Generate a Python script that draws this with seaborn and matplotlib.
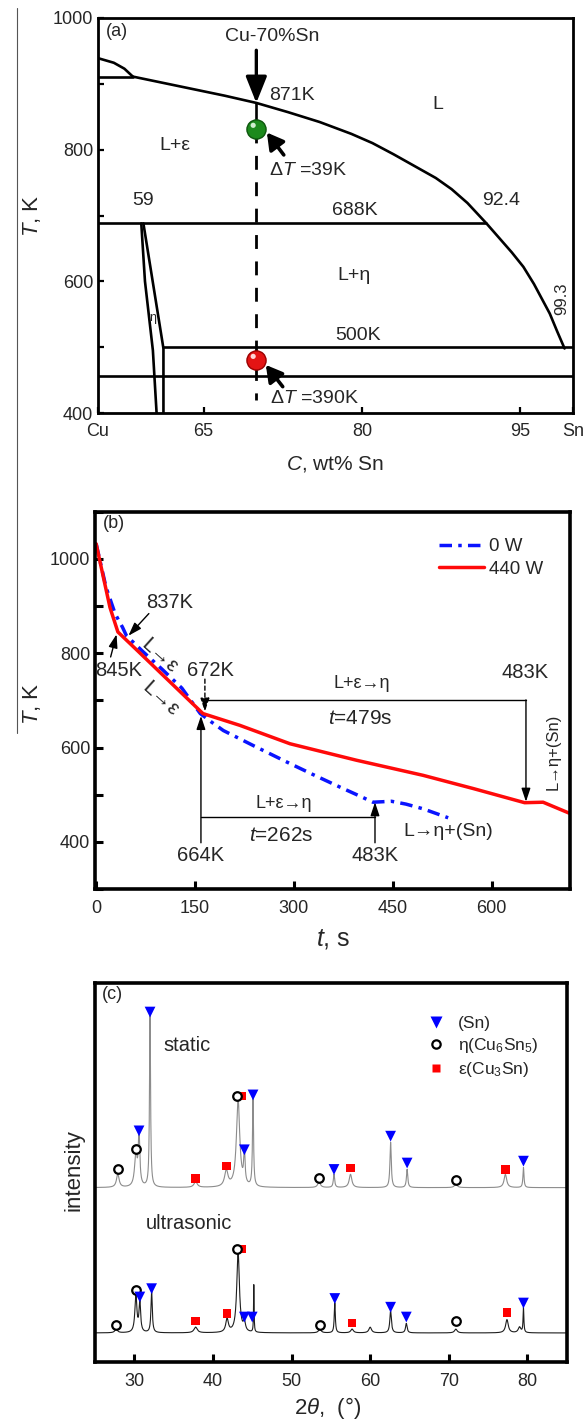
import numpy as np
import pandas as pd
import matplotlib
matplotlib.use("Agg")
import matplotlib.pyplot as plt
from matplotlib.lines import Line2D
from matplotlib.ticker import MultipleLocator
import seaborn as sns

# ---------------- (a) Cu-Sn phase diagram ----------------
liq_c = [58.3, 61, 64, 67, 70, 73, 76, 79, 81, 83, 85, 87, 88.5, 90, 91.8, 93, 94.2, 95.3,
         96.3, 97.2, 97.8, 98.5, 99.2]
liq_T = [911, 902, 892, 882, 871, 857, 842, 824, 810, 793, 775, 757, 740, 719, 688, 666, 644, 622,
         596, 569, 551, 524, 498]
cap_c = [55, 56.5, 57.5, 58.3]
cap_T = [939, 932, 923, 911]
eta_left_c = [59.1, 59.45, 60.2, 60.55]
eta_left_T = [688, 600, 495, 400]
eta_right_c = [59.3, 61.2, 61.2]
eta_right_T = [688, 498, 400]
iso_T = [911, 688, 500, 456]
iso_c0 = [55, 55, 61.2, 55]
iso_c1 = [58.3, 91.8, 100, 100]
alloy_c = 70
T_start, T_liq, T_green, T_red, T_dash_end = 951, 871, 832, 481, 420

# ---------------- (b) cooling curves ----------------
t_0w = [0, 15, 29, 40, 46, 72, 100, 130, 158, 175, 193, 240, 294, 330, 370, 400, 420, 448, 470, 496, 534]
T_0w = [1032, 940, 883, 855, 837, 802, 766, 726, 672, 654, 636, 603, 566, 542, 516, 497, 484, 486, 480, 470, 451]
t_440w = [0, 11, 21, 33, 60, 92, 127, 162, 218, 294, 395, 496, 572, 650, 678, 719]
T_440w = [1032, 961, 897, 845, 809, 766, 719, 672, 647, 608, 573, 541, 513, 483, 484, 460]

# ---------------- (c) XRD peaks: (2theta, height, half width) ----------------
static_base = 46
static_peaks = [(27.9, 3.5, 0.2), (30.2, 8.3, 0.2), (30.6, 13.6, 0.12), (32.0, 45.3, 0.08),
                (37.8, 1.5, 0.25), (41.7, 4.3, 0.25), (43.2, 23.3, 0.25), (44.0, 8.8, 0.1),
                (45.1, 23.3, 0.08), (53.5, 1.5, 0.2), (55.4, 3.5, 0.1), (57.5, 3.5, 0.2),
                (62.6, 12.0, 0.1), (64.7, 4.8, 0.1), (70.9, 1.0, 0.2), (77.2, 3.5, 0.2),
                (79.5, 5.3, 0.08)]
ultra_base = 7.6
ultra_peaks = [(27.7, 1.0, 0.2), (30.2, 10.0, 0.15), (30.7, 8.0, 0.12), (32.2, 11.0, 0.1),
               (37.8, 1.5, 0.25), (41.8, 3.5, 0.2), (43.2, 21.5, 0.2), (44.0, 2.5, 0.15),
               (45.2, 12.5, 0.04), (53.6, 1.0, 0.2), (55.5, 8.0, 0.08), (57.7, 1.0, 0.2),
               (60.0, 1.5, 0.2), (62.6, 5.8, 0.12), (64.6, 2.5, 0.12), (70.9, 1.0, 0.2),
               (77.4, 3.5, 0.2), (79.0, 1.5, 0.2), (79.5, 6.6, 0.06)]

static_sn_x = [30.6, 32.0, 44.0, 45.1, 55.4, 62.6, 64.7, 79.5]
static_sn_y = [61, 92.4, 56, 70.5, 50.8, 59.6, 52.5, 53]
static_eta_x = [27.9, 30.2, 43.1, 53.5, 70.9]
static_eta_y = [51, 56.3, 70.2, 48.6, 48]
static_eps_x = [37.8, 41.7, 43.7, 57.5, 77.2]
static_eps_y = [48.4, 51.7, 70.2, 51.2, 50.8]

ultra_sn_x = [30.7, 32.2, 44.0, 45.0, 55.5, 62.6, 64.6, 79.5]
ultra_sn_y = [17.1, 19.3, 11.8, 11.8, 16.7, 14.4, 11.8, 15.5]
ultra_eta_x = [27.7, 30.2, 43.1, 53.6, 70.9]
ultra_eta_y = [9.8, 19, 29.8, 9.8, 10.8]
ultra_eps_x = [37.8, 41.8, 43.7, 57.7, 77.4]
ultra_eps_y = [10.8, 12.7, 29.8, 10.2, 13]


def pattern(base, peaks):
    x = np.linspace(25, 85, 2401)
    y = np.full_like(x, float(base))
    for p, h, w in peaks:
        y += h / (1 + ((x - p) / w) ** 2)
    return pd.DataFrame({"two_theta": x, "I": y})


sns.set_style("ticks")
plt.rcParams['font.family'] = ['Liberation Sans', 'DejaVu Sans']
plt.rcParams['mathtext.fontset'] = 'custom'
plt.rcParams['mathtext.rm'] = 'Liberation Sans'
plt.rcParams['mathtext.it'] = 'Liberation Sans:italic'

fig = plt.figure(figsize=(5.84, 14.19), dpi=100)
ax_a = fig.add_axes([98 / 584, 1 - 413 / 1419, 475 / 584, 395 / 1419])
ax_b = fig.add_axes([95 / 584, 1 - 889 / 1419, 475 / 584, 377.3 / 1419])
ax_c = fig.add_axes([95 / 584, 1 - 1361.7 / 1419, 471.7 / 584, 378.4 / 1419])

# thin stray line on the far left of the page
fig.add_artist(Line2D([17 / 584, 17 / 584], [1 - 8 / 1419, 1 - 733 / 1419], color='#555555', lw=0.8))


def style_axes(ax, spine_w, tick_len, tick_w):
    for s in ax.spines.values():
        s.set_linewidth(spine_w)
        s.set_color('black')
    ax.tick_params(which='both', direction='in', length=tick_len, width=tick_w,
                   labelsize=13, top=False, right=False, color='black')


# ================= panel (a) =================
ax = ax_a
lk = dict(color='black', lw=1.9, sort=False, estimator=None, ax=ax)
sns.lineplot(x=liq_c, y=liq_T, **lk)
sns.lineplot(x=cap_c, y=cap_T, **lk)
sns.lineplot(x=eta_left_c, y=eta_left_T, **lk)
sns.lineplot(x=eta_right_c, y=eta_right_T, **lk)
for T, c0, c1 in zip(iso_T, iso_c0, iso_c1):
    sns.lineplot(x=[c0, c1], y=[T, T], **lk)
sns.lineplot(x=[alloy_c, alloy_c], y=[T_liq, T_green], **lk)
ax.plot([alloy_c, alloy_c], [T_green, T_dash_end], color='black', lw=2.0, dashes=(5, 4.5))
ax.annotate("", xy=(alloy_c, T_liq), xytext=(alloy_c, T_start),
            arrowprops=dict(arrowstyle="-|>,head_length=0.8,head_width=0.32", lw=2.4,
                            color='black', mutation_scale=20, shrinkA=0, shrinkB=0))
# balls
for T, fc, ec, hl in [(T_green, '#1c8a1c', '#0d560d', '#cfeecf'), (T_red, '#e41414', '#9a0000', '#ffd6d6')]:
    sns.scatterplot(x=[alloy_c], y=[T], s=190, color=fc, edgecolor=ec, linewidth=1, ax=ax, zorder=5)
    sns.scatterplot(x=[alloy_c - 0.3], y=[T + 5], s=14, color=hl, edgecolor='none', ax=ax, zorder=6)
for tip, tail in [((71.0, 826), (72.6, 792)), ((70.9, 473), (72.5, 440))]:
    ax.annotate("", xy=tip, xytext=tail,
                arrowprops=dict(arrowstyle="-|>,head_length=0.7,head_width=0.4", lw=2.6,
                                color='black', mutation_scale=14, shrinkA=0, shrinkB=0), zorder=7)

ta = dict(ha='center', va='center', fontsize=14)
ax.text(56.8, 979, "(a)", ha='center', va='center', fontsize=13)
ax.text(71.5, 972, "Cu-70%Sn", **ta)
ax.text(73.4, 883, "871K", **ta)
ax.text(87.2, 868, "L", **ta)
ax.text(62.3, 807, "L+ε", **ta)
ax.text(74.9, 769, r"Δ$T$ =39K", **ta)
ax.text(59.3, 723, "59", **ta)
ax.text(79.3, 708, "688K", **ta)
ax.text(93.2, 723, "92.4", **ta)
ax.text(79.3, 609, "L+η", **ta)
ax.text(98.9, 574, "99.3", ha='center', va='center', fontsize=12, rotation=90)
ax.text(60.2, 544, "η", ha='center', va='center', fontsize=9)
ax.text(79.6, 518, "500K", **ta)
ax.text(75.5, 422, r"Δ$T$ =390K", **ta)

ax.set_xlim(55, 100)
ax.set_ylim(400, 1000)
ax.set_xticks([55, 65, 80, 95, 100])
ax.set_xticklabels(['Cu', '65', '80', '95', 'Sn'])
ax.yaxis.set_major_locator(MultipleLocator(200))
ax.yaxis.set_minor_locator(MultipleLocator(100))
style_axes(ax, 2.0, 4, 1.6)
ax.tick_params(axis='x', pad=7)
ax.set_xlabel(r"$C$, wt% Sn", fontsize=15)
ax.set_ylabel(r"$T$, K", fontsize=16)
ax.xaxis.set_label_coords(0.499, -0.104)
ax.yaxis.set_label_coords(-0.115, 0.5)

# ================= panel (b) =================
ax = ax_b
sns.lineplot(x=t_0w, y=T_0w, sort=False, estimator=None, color='#0a14ff', lw=2.5,
             linestyle=(0, (3.6, 1.8, 1.0, 1.8)), label='0 W', ax=ax)
sns.lineplot(x=t_440w, y=T_440w, sort=False, estimator=None, color='#ff0a0a', lw=2.5,
             label='440 W', ax=ax)

arr_s = dict(arrowstyle="-|>,head_length=0.9,head_width=0.3", lw=1.0, color='black',
             mutation_scale=9, shrinkA=0, shrinkB=0)
tb = dict(ha='center', va='center', fontsize=14.5)
ax.text(27, 1075, "(b)", ha='center', va='center', fontsize=13)
ax.annotate("", xy=(49, 837), xytext=(80, 884), arrowprops=arr_s)
ax.text(112, 907, "837K", **tb)
ax.annotate("", xy=(31, 840), xytext=(22, 792), arrowprops=arr_s)
ax.text(34, 763, "845K", **tb)
ax.text(96, 794, "L→ε", ha='center', va='center', fontsize=15, rotation=-42)
ax.text(97, 703, "L→ε", ha='center', va='center', fontsize=15, rotation=-42)
ax.text(173, 763, "672K", **tb)
ax.annotate("", xy=(165, 676), xytext=(165, 745),
            arrowprops=dict(arr_s, linestyle=(0, (3, 2))))
ax.plot([165, 652], [701, 701], color='black', lw=1.0)
ax.annotate("", xy=(652, 485), xytext=(652, 701), arrowprops=arr_s)
ax.text(650, 760, "483K", **tb)
ax.text(403, 735, "L+ε→η", ha='center', va='center', fontsize=13)
ax.text(400, 661, r"$t$=479s", ha='center', va='center', fontsize=15)
ax.text(693, 590, "L→η+(Sn)", ha='center', va='center', fontsize=12, rotation=90)
ax.annotate("", xy=(159, 667), xytext=(159, 398), arrowprops=arr_s)
ax.plot([159, 423], [452, 452], color='black', lw=1.0)
ax.annotate("", xy=(423, 484), xytext=(423, 398), arrowprops=arr_s)
ax.text(284, 481, "L+ε→η", ha='center', va='center', fontsize=13)
ax.text(281, 414, r"$t$=262s", ha='center', va='center', fontsize=15)
ax.text(158, 371, "664K", **tb)
ax.text(423, 371, "483K", **tb)
ax.text(534, 421, "L→η+(Sn)", ha='center', va='center', fontsize=14)

ax.set_xlim(-1.7, 718.8)
ax.set_ylim(300, 1100)
ax.set_xticks([0, 150, 300, 450, 600])
ax.set_yticks([400, 600, 800, 1000])
ax.yaxis.set_minor_locator(MultipleLocator(100))
style_axes(ax, 2.6, 6, 2.2)
ax.tick_params(axis='x', pad=8)
ax.set_xlabel(r"$t$, s", fontsize=18)
ax.set_ylabel(r"$T$, K", fontsize=16)
ax.xaxis.set_label_coords(0.502, -0.1)
ax.yaxis.set_label_coords(-0.11, 0.49)
ax.legend(loc='upper left', bbox_to_anchor=(0.725, 0.93), frameon=False, fontsize=13.5,
          handlelength=2.4, handletextpad=0.25, labelspacing=0.3, borderpad=0, borderaxespad=0)

# ================= panel (c) =================
ax = ax_c
sns.lineplot(data=pattern(static_base, static_peaks), x="two_theta", y="I", color='#8c8c8c',
             lw=0.8, sort=False, estimator=None, ax=ax)
sns.lineplot(data=pattern(ultra_base, ultra_peaks), x="two_theta", y="I", color='#1e1e1e',
             lw=0.8, sort=False, estimator=None, ax=ax)

for sx, sy, ex, ey, cx, cy in [(static_sn_x, static_sn_y, static_eta_x, static_eta_y, static_eps_x, static_eps_y),
                               (ultra_sn_x, ultra_sn_y, ultra_eta_x, ultra_eta_y, ultra_eps_x, ultra_eps_y)]:
    sns.scatterplot(x=cx, y=cy, marker='s', s=38, color='#ff0000', edgecolor='none', ax=ax, zorder=4)
    sns.scatterplot(x=ex, y=ey, marker='o', s=38, color='white', edgecolor='black', linewidth=1.6,
                    ax=ax, zorder=5)
    sns.scatterplot(x=sx, y=sy, marker='v', s=60, color='#0000ff', edgecolor='none', ax=ax, zorder=6)

ax.text(27.2, 97, "(c)", ha='center', va='center', fontsize=13)
ax.text(36.7, 83.6, "static", ha='center', va='center', fontsize=14.5)
ax.text(36.9, 36.5, "ultrasonic", ha='center', va='center', fontsize=14.5)

handles = [Line2D([], [], ls='none', marker='v', ms=8, mfc='#0000ff', mec='none'),
           Line2D([], [], ls='none', marker='o', ms=6, mfc='white', mec='black', mew=1.6),
           Line2D([], [], ls='none', marker='s', ms=6, mfc='#ff0000', mec='none')]
labels = ["(Sn)", "η(Cu$_6$Sn$_5$)", "ε(Cu$_3$Sn)"]
ax.legend(handles, labels, loc='upper left', bbox_to_anchor=(0.70, 0.915), frameon=False,
          fontsize=12.5, handlelength=1.2, handletextpad=0.7, labelspacing=0.3,
          borderpad=0, borderaxespad=0)

ax.set_xlim(25, 85)
ax.set_ylim(0, 100)
ax.set_xticks([30, 40, 50, 60, 70, 80])
ax.set_yticks([])
style_axes(ax, 2.6, 6, 2.2)
ax.tick_params(axis='x', pad=8)
ax.set_xlabel(r"2$\theta$,  (°)", fontsize=16)
ax.set_ylabel("intensity", fontsize=16)
ax.xaxis.set_label_coords(0.494, -0.088)
ax.yaxis.set_label_coords(-0.022, 0.507)

fig.savefig("out.png", dpi=100)
